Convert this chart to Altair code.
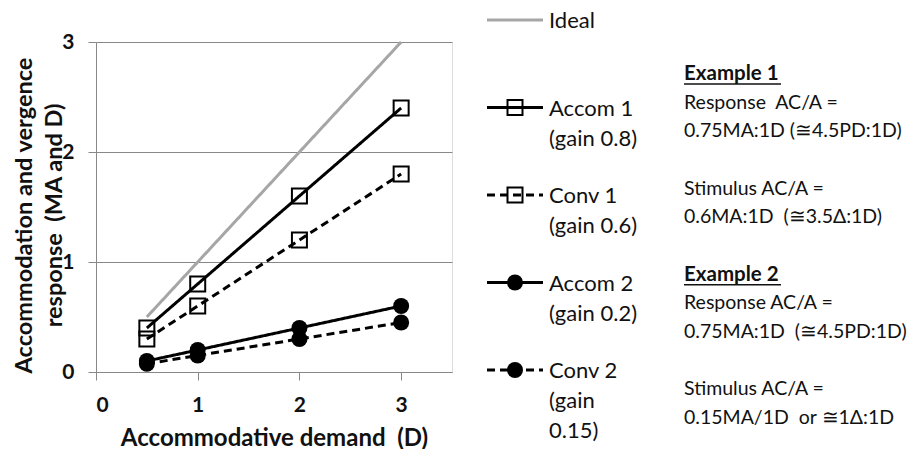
import altair as alt
import pandas as pd

NB = "\u00a0"

# ---------------- data ----------------
demand = [0.5, 1, 2, 3]
series = ["Ideal", "Accom 1", "Conv 1", "Accom 2", "Conv 2"]
ideal = [0.5, 1, 2, 3]
accom1 = [0.4, 0.8, 1.6, 2.4]
conv1 = [0.3, 0.6, 1.2, 1.8]
accom2 = [0.1, 0.2, 0.4, 0.6]
conv2 = [0.075, 0.15, 0.3, 0.45]

legend_labels = ["Ideal", "Accom 1\n(gain 0.8)", "Conv 1\n(gain 0.6)",
                 "Accom 2\n(gain 0.2)", "Conv 2\n(gain\n0.15)"]

note_lines = ["Example 1", "Response" + NB + NB + "AC/A =", "0.75MA:1D (\u22454.5PD:1D)",
              "Stimulus AC/A =", "0.6MA:1D" + NB + NB + "(\u22453.5\u0394:1D)",
              "Example 2", "Response AC/A =", "0.75MA:1D" + NB + NB + "(\u22454.5PD:1D)",
              "Stimulus AC/A =", "0.15MA/1D" + NB + NB + "or \u22451\u0394:1D"]
note_rows = [0, 1, 2, 4, 5, 7, 8, 9, 11, 12]
note_heading = [True, False, False, False, False, True, False, False, False, False]

x_title = "Accommodative demand" + NB + NB + "(D)"
y_title = ["Accommodation and vergence", "response" + NB + NB + "(MA and D)"]

# ---------------- frames ----------------
values = {"Ideal": ideal, "Accom 1": accom1, "Conv 1": conv1,
          "Accom 2": accom2, "Conv 2": conv2}
rows = []
for s in series:
    for d, v in zip(demand, values[s]):
        rows.append({"series": s, "demand": d, "value": v})
df = pd.DataFrame(rows)

leg = pd.DataFrame({"series": series, "label": legend_labels,
                    "row": list(range(len(series)))})
notes = pd.DataFrame({"text": note_lines, "row": note_rows, "heading": note_heading})

FONT = "Lato"
TXT = "#111111"
AX = "#888888"

colors = ["#a6a6a6", "black", "black", "black", "black"]
dashes = [[1, 0], [1, 0], [8, 5], [1, 0], [8, 5]]
color_enc = alt.Color("series:N", scale=alt.Scale(domain=series, range=colors), legend=None)
dash_enc = alt.StrokeDash("series:N", scale=alt.Scale(domain=series, range=dashes), legend=None)

xs = alt.Scale(domain=[0, 3.5], nice=False, zero=False)
ys = alt.Scale(domain=[0, 3], nice=False)

x_axis = alt.Axis(values=[0, 1, 2, 3], format="d", grid=False, title=x_title,
                  domainColor=AX, tickColor=AX, tickSize=8,
                  labelFont=FONT, labelFontWeight="bold", labelFontSize=21,
                  labelColor=TXT, labelPadding=14,
                  titleFont=FONT, titleFontWeight="bold", titleFontSize=24,
                  titleColor=TXT, titlePadding=11, titleLimit=600)

lines = alt.Chart(df).mark_line(strokeWidth=3).encode(
    x=alt.X("demand:Q", scale=xs, axis=x_axis),
    y=alt.Y("value:Q", scale=ys,
            axis=alt.Axis(values=[0, 1, 2, 3], format="d", grid=True, gridColor=AX,
                          gridOpacity=1, domainColor=AX, tickColor=AX, tickSize=8,
                          labelFont=FONT, labelFontWeight="bold", labelFontSize=21,
                          labelColor=TXT, labelPadding=14,
                          title=y_title, titleFont=FONT, titleFontWeight="bold",
                          titleFontSize=23.5, titleColor=TXT, titleLineHeight=30,
                          titleX=-65, titleY=173, titleAngle=-90, titleLimit=600,
                          titleAlign="center", titleBaseline="alphabetic")),
    color=color_enc,
    strokeDash=dash_enc,
    detail="series:N",
)

sq_series = ["Accom 1", "Conv 1"]
ci_series = ["Accom 2", "Conv 2"]

squares = alt.Chart(df).transform_filter(
    alt.FieldOneOfPredicate(field="series", oneOf=sq_series)
).mark_point(shape="square", filled=False, size=225, strokeWidth=2,
             color="black", opacity=1).encode(
    x=alt.X("demand:Q", scale=xs, axis=x_axis),
    y=alt.Y("value:Q", scale=ys, axis=None),
)
circles = alt.Chart(df).transform_filter(
    alt.FieldOneOfPredicate(field="series", oneOf=ci_series)
).mark_point(shape="circle", filled=True, size=256, color="black", opacity=1).encode(
    x=alt.X("demand:Q", scale=xs, axis=x_axis),
    y=alt.Y("value:Q", scale=ys, axis=None),
)

# ---------------- legend (drawn to the right of the plot) ----------------
ly = alt.Y("row:Q", scale=alt.Scale(domain=[0, 4], range=[-22, 328]), axis=None)

leg_lines = alt.Chart(leg).mark_rule(strokeWidth=3).encode(
    x=alt.value(391), x2=alt.value(447), y=ly,
    color=color_enc, strokeDash=dash_enc,
)
leg_sq = alt.Chart(leg).transform_filter(
    alt.FieldOneOfPredicate(field="series", oneOf=sq_series)
).mark_point(shape="square", filled=False, size=225, strokeWidth=2,
             color="black", opacity=1).encode(x=alt.value(419), y=ly)
leg_ci = alt.Chart(leg).transform_filter(
    alt.FieldOneOfPredicate(field="series", oneOf=ci_series)
).mark_point(shape="circle", filled=True, size=256, color="black",
             opacity=1).encode(x=alt.value(419), y=ly)
leg_text = alt.Chart(leg).mark_text(
    align="left", baseline="alphabetic", dy=8, lineBreak="\n", lineHeight=30,
    font=FONT, fontSize=22, color=TXT,
).encode(x=alt.value(453), y=ly, text="label:N")

# ---------------- notes ----------------
ny = alt.Y("row:Q", scale=alt.Scale(domain=[0, 12], range=[38, 382]), axis=None)
notes_reg = alt.Chart(notes).transform_filter("!datum.heading").mark_text(
    align="left", baseline="alphabetic", font=FONT, fontSize=19.5, color=TXT,
).encode(x=alt.value(588), y=ny, text="text:N")
notes_head = alt.Chart(notes).transform_filter("datum.heading").mark_text(
    align="left", baseline="alphabetic", font=FONT, fontSize=20.5, fontWeight="bold",
    color=TXT,
).encode(x=alt.value(588), y=ny, text="text:N")
underline = alt.Chart(notes).transform_filter("datum.heading").mark_rule(
    yOffset=4, strokeWidth=1.5, color=TXT,
).encode(x=alt.value(588), x2=alt.value(685), y=ny)

chart = alt.layer(
    lines, squares, circles,
    leg_lines, leg_sq, leg_ci, leg_text,
    notes_reg, notes_head, underline,
).resolve_scale(y="independent").properties(
    width=356, height=330,
    autosize=alt.AutoSizeParams(type="none"),
    padding={"left": 88, "top": 34, "right": 456, "bottom": 77},
).configure_view(stroke=None).configure(background="white")

chart.save("out.html", embed_options={"renderer": "svg", "actions": False})
